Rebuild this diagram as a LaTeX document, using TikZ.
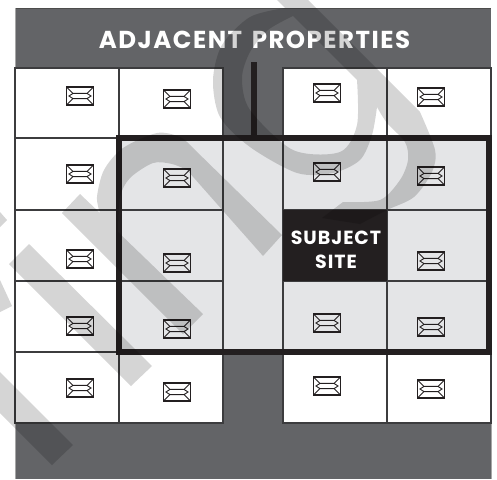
\documentclass[tikz,border=0pt]{standalone}
\usepackage{fontspec}
\setmainfont{Poppins}
\newfontfamily\titlefont[LetterSpace=6]{Poppins}
\newfontfamily\sitefont[LetterSpace=5]{Poppins}
\definecolor{roadgrey}{HTML}{636467}
\definecolor{sitegrey}{HTML}{E4E5E7}
\definecolor{inkblack}{HTML}{231F20}
\definecolor{cellline}{HTML}{3C3C3E}
\tikzset{
  plotcell/.style={draw=cellline,line width=1.1pt,fill=white},
  sitecell/.style={draw=cellline,line width=1.1pt,fill=sitegrey},
  thickline/.style={draw=inkblack,line width=5.5pt},
  wmark/.style={fill=black,fill opacity=0.165,even odd rule},
  envelope/.pic={
    \draw[line width=1.4pt,draw=inkblack,line join=miter] (-13.5,-9) rectangle (13.5,9);
    \draw[line width=0.9pt,draw=inkblack]
      (-13.5,-9) -- (-7,-2.6) -- (7,-2.6) -- (13.5,-9)
      (-13.5,9) -- (-7,2.6) -- (7,2.6) -- (13.5,9)
      (-7,-2.6) -- (-11,0) -- (-7,2.6)
      (7,-2.6) -- (11,0) -- (7,2.6);
  }
}
\begin{document}
\begin{tikzpicture}[x=1pt,y=-1pt]
\useasboundingbox (0,0) rectangle (497,479);
\fill[white] (0,0) rectangle (497,479);
% ground
\fill[roadgrey] (15,8) rectangle (491,479);
\draw[draw=black!70,line width=0.8pt] (15,8) -- (491,8);
\draw[draw=black!35,line width=0.9pt] (15,8) -- (15,479);
\draw[draw=black!35,line width=0.9pt] (491,68) -- (491,479);
% outer rows of plots
\foreach \xa/\xb in {15/119,119/223,283/387,387/491}{
  \draw[plotcell] (\xa,68) rectangle (\xb,138);
  \draw[plotcell] (\xa,352) rectangle (\xb,423);
}
\foreach \ya/\yb in {138/210,210/281,281/352}{
  \draw[plotcell] (15,\ya) rectangle (119,\yb);
}
% site
\fill[sitegrey] (119,138) rectangle (489,352);
\foreach \ya/\yb in {138/210,210/281,281/352}{
  \draw[sitecell] (119,\ya) rectangle (223,\yb);
  \draw[sitecell] (387,\ya) rectangle (489,\yb);
}
\draw[sitecell] (223,138) rectangle (283,352);
\draw[sitecell] (283,138) rectangle (387,210);
\draw[sitecell] (283,281) rectangle (387,352);
\fill[inkblack] (283,210) rectangle (387,281);
\node[inner sep=0pt,text=white,align=center,font=\sitefont\bfseries\fontsize{19}{24}\selectfont]
      (subject) at (336,249.5) {SUBJECT\\SITE};
\draw[thickline] (119,138) rectangle (489,352);
\coordinate (stubtop) at (254,62);
\coordinate (stubfoot) at (254,138);
\draw[draw=inkblack,line width=6pt] (stubtop) -- (stubfoot);
% envelopes
\foreach \ex/\ey in {80/96,80/174,80/259,80/326,80/388,
                     177/99,177/178,177/263,177/329,177/392,
                     327/93,327/172,327/323,327/386,
                     431/97,431/176,431/261,431/327,431/389}{
  \pic at (\ex,\ey) {envelope};
}
\node[text=white,font=\titlefont\bfseries\fontsize{24.5}{28}\selectfont,inner sep=0pt] (title) at (254.5,39.5) {ADJACENT\hspace{3pt} PROPERTIES};
% overlaid watermark
\fill[wmark] (80,194) -- (100,213) -- plot[smooth] coordinates {(100,213) (97,197) (104,170) (123,148) (157,133) (180,137) (192,147)}
  -- (282,235) -- (263,256) -- (187,170) -- plot[smooth] coordinates {(187,170) (172,164) (153,163) (130,178) (120,197) (118,232)}
  -- (203,314) -- (183,334) -- (62,213) -- cycle;
\fill[wmark] (29,244) -- (152,366) -- (131,386) -- (9,264) -- cycle;
\fill[wmark] (0,372) -- (73,445) -- (52,465) -- (0,413) -- cycle;
\fill[wmark] (0,212) -- (7,220) -- (0,227) -- cycle;
\fill[wmark] (0,280) -- (12,306) -- (0,312) -- cycle;
\fill[wmark] (277,0) -- (285,8) -- plot[smooth] coordinates {(285,8) (250,17) (222,45) (213,80) (220,117) (250,147) (297,173) (333,173) (360,160) (372,135) (377,107)}
  -- plot[smooth] coordinates {(377,107) (387,123) (405,142) (408,160) (400,180) (380,200) (343,202)}
  -- (322,218) -- (360,224) -- plot[smooth] coordinates {(360,224) (387,210) (414,197) (432,172) (435,150) (420,112)}
  -- (308,0) -- cycle
  (293,16) -- plot[smooth] coordinates {(293,16) (268,30) (250,52) (242,78) (250,110) (293,150) (340,152) (357,125) (357,80)} -- cycle;
\end{tikzpicture}
\end{document}
